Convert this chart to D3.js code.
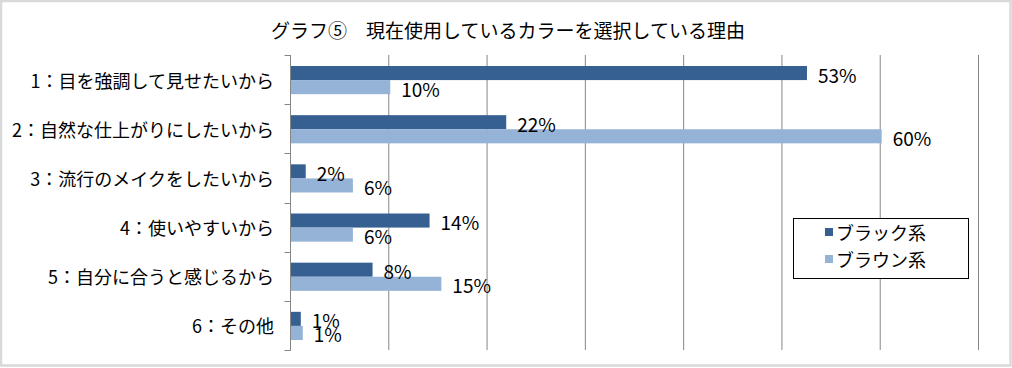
<!DOCTYPE html>
<html>
<head>
<meta charset="utf-8">
<script src="https://cdn.jsdelivr.net/npm/d3@7"></script>
<style>
  body { margin: 0; background: #fff; }
  svg { display: block; font-family: "Noto Sans CJK JP", "Noto Sans", sans-serif; }
</style>
</head>
<body>
<script>
// chart data
var categories = ["1：目を強調して見せたいから", "2：自然な仕上がりにしたいから", "3：流行のメイクをしたいから",
                  "4：使いやすいから", "5：自分に合うと感じるから", "6：その他"];
var seriesNames = ["ブラック系", "ブラウン系"];
var blackValues = [52.6, 22.0, 1.6, 14.2, 8.4, 1.1];
var brownValues = [10.2, 60.2, 6.4, 6.4, 15.4, 1.3];
var gridTicks = [0, 10, 20, 30, 40, 50, 60, 70];
var title = "グラフ⑤　現在使用しているカラーを選択している理由";

var width = 1012, height = 368;
var colors = ["#376092", "#95b3d7"];

var svg = d3.select("body").append("svg")
    .attr("width", width)
    .attr("height", height);

// outer frame
svg.append("rect")
    .attr("x", 1).attr("y", 1)
    .attr("width", width - 2.5).attr("height", height - 3.5)
    .attr("fill", "#fff")
    .attr("stroke", "#d9d9d9")
    .attr("stroke-width", 2.5);

svg.append("text")
    .attr("x", 508).attr("y", 29)
    .attr("text-anchor", "middle")
    .attr("dominant-baseline", "central")
    .attr("font-size", 19)
    .attr("fill", "#000")
    .text(title);

var x = d3.scaleLinear().domain([0, 70]).range([290, 978]);
var y = d3.scaleBand().domain(categories).range([55, 350]);
var inner = d3.scaleBand().domain([0, 1]).range([11, y.bandwidth() - 10]);

// gridlines
svg.append("g").selectAll("line")
    .data(gridTicks.slice(1))
    .enter().append("line")
    .attr("x1", function(d){ return x(d) + 0.5; })
    .attr("x2", function(d){ return x(d) + 0.5; })
    .attr("y1", 55).attr("y2", 350)
    .attr("stroke", "#868686")
    .attr("stroke-width", 1);

// category axis
var axis = svg.append("g")
    .attr("transform", "translate(290.5,0)");
axis.append("line")
    .attr("y1", 55).attr("y2", 350.5)
    .attr("stroke", "#868686");
var tickPos = categories.map(function(c){ return y(c); }).concat([350]);
axis.selectAll(".tick")
    .data(tickPos)
    .enter().append("line")
    .attr("x1", -6).attr("x2", 0)
    .attr("y1", function(d){ return Math.round(d) + 0.5; })
    .attr("y2", function(d){ return Math.round(d) + 0.5; })
    .attr("stroke", "#868686");

svg.append("g").selectAll("text")
    .data(categories)
    .enter().append("text")
    .attr("x", 274)
    .attr("y", function(d){ return y(d) + y.bandwidth() / 2; })
    .attr("text-anchor", "end")
    .attr("dominant-baseline", "central")
    .attr("font-size", 18)
    .attr("fill", "#000")
    .text(function(d){ return d; });

// bars
var rows = [];
categories.forEach(function(c, i){
    rows.push({cat: c, s: 0, v: blackValues[i]});
    rows.push({cat: c, s: 1, v: brownValues[i]});
});

svg.append("g").selectAll("rect")
    .data(rows)
    .enter().append("rect")
    .attr("x", x(0) + 1)
    .attr("y", function(d){ return y(d.cat) + inner(d.s); })
    .attr("width", function(d){ return x(d.v) - x(0) - 1; })
    .attr("height", inner.bandwidth())
    .attr("fill", function(d){ return colors[d.s]; });

svg.append("g").selectAll("text")
    .data(rows)
    .enter().append("text")
    .attr("x", function(d){ return x(d.v) + 11; })
    .attr("y", function(d){ return y(d.cat) + inner(d.s) + inner.bandwidth() / 2 + 1; })
    .attr("dominant-baseline", "central")
    .attr("font-size", 19)
    .attr("fill", "#000")
    .text(function(d){ return Math.round(d.v) + "%"; });

// legend
var legend = svg.append("g");
legend.append("rect")
    .attr("x", 793.5).attr("y", 218.5)
    .attr("width", 175).attr("height", 60)
    .attr("fill", "#fff")
    .attr("stroke", "#000");
var entries = legend.selectAll(".entry")
    .data(seriesNames)
    .enter().append("g")
    .attr("transform", function(d, i){ return "translate(825," + (232 + i * 27) + ")"; });
entries.append("rect")
    .attr("x", 0).attr("y", -4)
    .attr("width", 8).attr("height", 8)
    .attr("fill", function(d, i){ return colors[i]; });
entries.append("text")
    .attr("x", 11).attr("y", 0)
    .attr("dominant-baseline", "central")
    .attr("font-size", 18)
    .attr("fill", "#000")
    .text(function(d){ return d; });
</script>
</body>
</html>
